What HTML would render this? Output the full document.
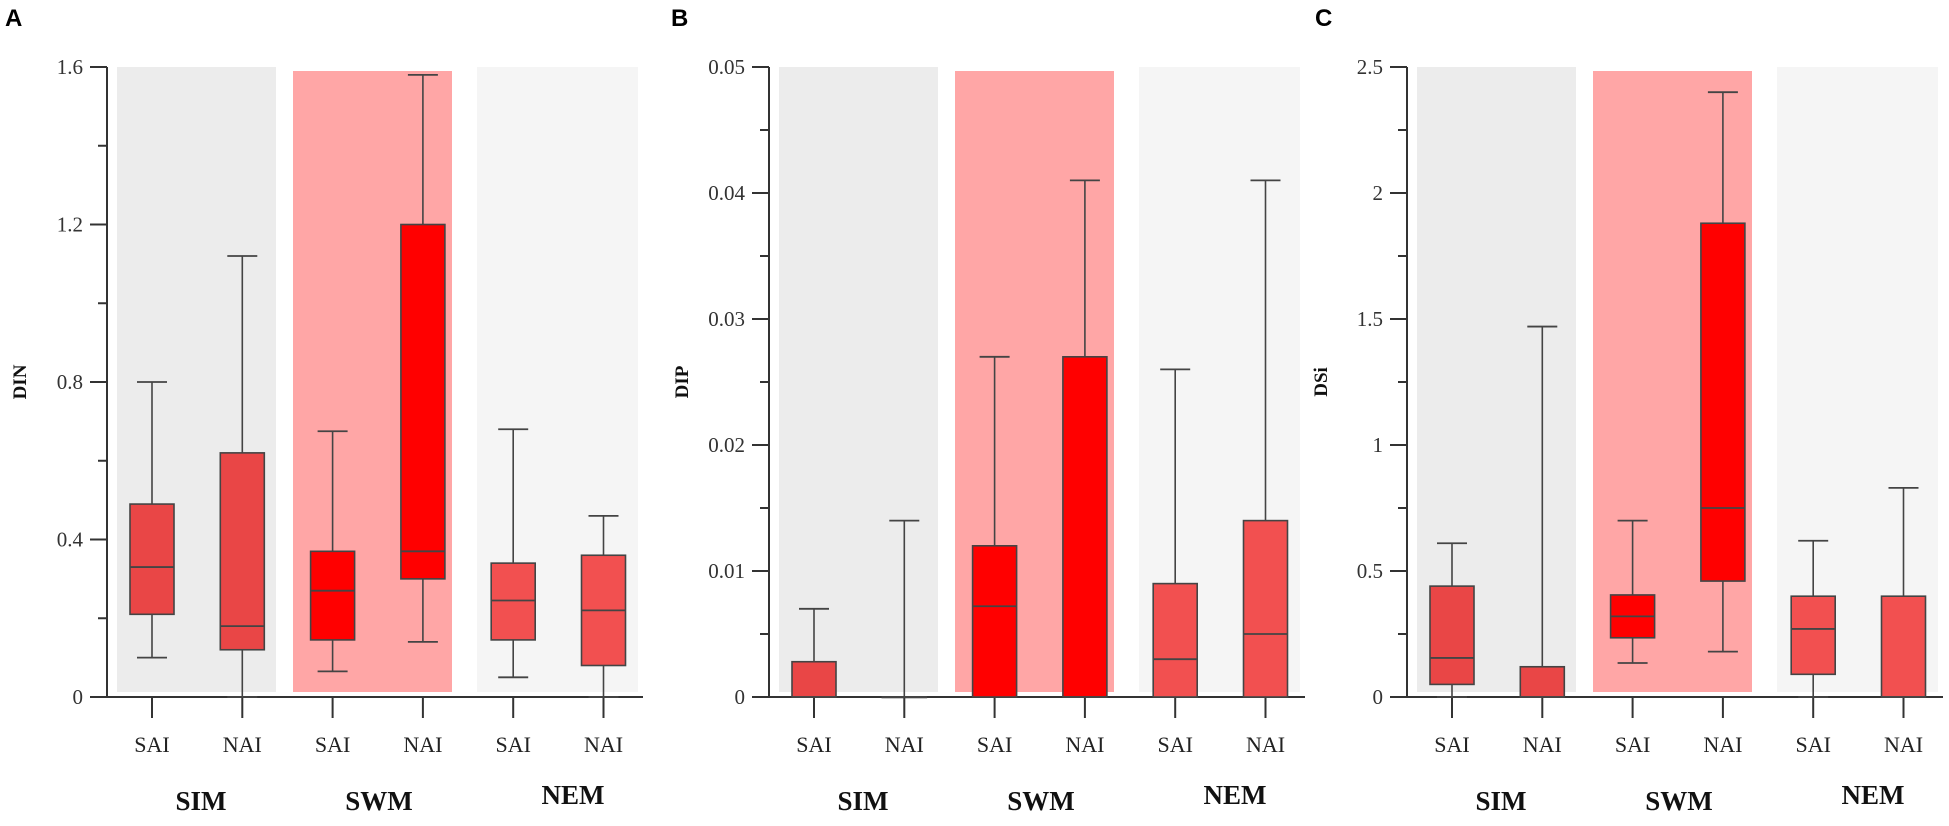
<!DOCTYPE html>
<html><head><meta charset="utf-8"><style>
html,body{margin:0;padding:0;background:#fff;}
svg{display:block;}
</style></head><body>
<svg id="fig" width="1949" height="826" xmlns="http://www.w3.org/2000/svg"></svg>
<script>
const categories = ["SAI","NAI","SAI","NAI","SAI","NAI"];
const groups = ["SIM","SWM","NEM"];
// panel A: DIN
const dinWhiskerLow = [0.1, 0, 0.065, 0.14, 0.05, 0];
const dinQ1 = [0.21, 0.12, 0.145, 0.30, 0.145, 0.08];
const dinMedian = [0.33, 0.18, 0.27, 0.37, 0.245, 0.22];
const dinQ3 = [0.49, 0.62, 0.37, 1.20, 0.34, 0.36];
const dinWhiskerHigh = [0.8, 1.12, 0.675, 1.58, 0.68, 0.46];
const dinTicks = ["0","0.4","0.8","1.2","1.6"];
// panel B: DIP
const dipWhiskerLow = [0, 0, 0, 0, 0, 0];
const dipQ1 = [0, 0, 0, 0, 0, 0];
const dipMedian = [0, 0, 0.0072, 0, 0.003, 0.005];
const dipQ3 = [0.0028, 0, 0.012, 0.027, 0.009, 0.014];
const dipWhiskerHigh = [0.007, 0.014, 0.027, 0.041, 0.026, 0.041];
const dipTicks = ["0","0.01","0.02","0.03","0.04","0.05"];
// panel C: DSi
const dsiWhiskerLow = [0, 0, 0.135, 0.18, 0, 0];
const dsiQ1 = [0.05, 0, 0.235, 0.46, 0.09, 0];
const dsiMedian = [0.155, 0, 0.32, 0.75, 0.27, 0];
const dsiQ3 = [0.44, 0.12, 0.405, 1.88, 0.40, 0.40];
const dsiWhiskerHigh = [0.61, 1.47, 0.70, 2.4, 0.62, 0.83];
const dsiTicks = ["0","0.5","1","1.5","2","2.5"];

const NS="http://www.w3.org/2000/svg";
const svg=document.getElementById('fig');
function mk(tag,attrs,parent,text){const e=document.createElementNS(NS,tag);for(const k in attrs)e.setAttribute(k,attrs[k]);if(text!==undefined)e.textContent=text;(parent||svg).appendChild(e);return e;}

const Y0=697, Y1=67;
const shadeFill=["#ececec","#ffa6a6","#f5f5f5"];
const boxFill=["#e94646","#e94646","#ff0000","#ff0000","#f25050","#f25050"];

function panel(letter, title, ax, lx, tx, ticks, lo, q1, med, q3, hi){
  const g=mk('g',{});
  
  
  const max=parseFloat(ticks[ticks.length-1]);
  const y=v=>Y0-(v/max)*(Y0-Y1);
  const xc=i=>ax+45+90.3*i;
  // shading
  const sh=[[10,169],[186,345],[370,531]];
  sh.forEach((s,k)=>{
    const r=mk('rect',{x:ax+s[0],y:k===1?71:67,width:s[1]-s[0],height:(k===1?692-71:692-67),fill:shadeFill[k]},g);
    
    
  });
  // axes
  const ya=mk('line',{x1:ax,y1:Y1,x2:ax,y2:Y0,stroke:'#333','stroke-width':2},g);
  
  
  const xa=mk('line',{x1:ax-1,y1:Y0,x2:ax+536,y2:Y0,stroke:'#333','stroke-width':2},g);
  
  
  // ticks
  for(let i=0;i<ticks.length;i++){
    const v=parseFloat(ticks[i]);
    mk('line',{x1:ax-17,y1:y(v),x2:ax,y2:y(v),stroke:'#333','stroke-width':2},g);
    const t=mk('text',{x:ax-24,y:y(v)+7,'text-anchor':'end','font-family':'Liberation Serif, serif','font-size':21,fill:'#333'},g,ticks[i]);
    
    
    if(i<ticks.length-1){
      const mv=v+(parseFloat(ticks[i+1])-v)/2;
      mk('line',{x1:ax-9,y1:y(mv),x2:ax,y2:y(mv),stroke:'#333','stroke-width':2},g);
    }
  }
  // boxes
  for(let i=0;i<categories.length;i++){
    const cx=xc(i);
    mk('line',{x1:cx,y1:Y0,x2:cx,y2:718,stroke:'#333','stroke-width':2},g);
    const cl=mk('text',{x:cx,y:752,'text-anchor':'middle','font-family':'Liberation Serif, serif','font-size':22,fill:'#222'},g,categories[i]);
    
    
    const bg=mk('g',{},g);
    
    
    mk('line',{x1:cx,y1:y(hi[i]),x2:cx,y2:y(lo[i]),stroke:'#444','stroke-width':1.6},bg);
    mk('line',{x1:cx-15,y1:y(hi[i]),x2:cx+15,y2:y(hi[i]),stroke:'#444','stroke-width':1.8},bg);
    mk('line',{x1:cx-15,y1:y(lo[i]),x2:cx+15,y2:y(lo[i]),stroke:'#444','stroke-width':1.8},bg);
    const h=Math.max(y(q1[i])-y(q3[i]),0.5);
    mk('rect',{x:cx-22,y:y(q3[i]),width:44,height:h,fill:boxFill[i],stroke:'#444','stroke-width':1.6},bg);
    mk('line',{x1:cx-22,y1:y(med[i]),x2:cx+22,y2:y(med[i]),stroke:'#444','stroke-width':1.8},bg);
  }
  // group labels
  const gx=[ax+94,ax+272,ax+466];
  const gy=[810,810,804];
  groups.forEach((n,k)=>{
    const t=mk('text',{x:gx[k],y:gy[k],'text-anchor':'middle','font-family':'Liberation Serif, serif','font-size':27,'font-weight':'bold',fill:'#111'},g,n);
    
    
  });
  // y title
  const yt=mk('text',{x:0,y:0,transform:`translate(${tx},382) rotate(-90)`,'text-anchor':'middle','font-family':'Liberation Serif, serif','font-size':19,'font-weight':'bold',fill:'#111'},g,title);
  
  
  const pl=mk('text',{x:lx,y:26,'font-family':'Liberation Sans, sans-serif','font-size':24,'font-weight':'bold',fill:'#000'},g,letter);
  
  
}
panel('A','DIN',107,5,26,dinTicks,dinWhiskerLow,dinQ1,dinMedian,dinQ3,dinWhiskerHigh);
panel('B','DIP',769,671,688,dipTicks,dipWhiskerLow,dipQ1,dipMedian,dipQ3,dipWhiskerHigh);
panel('C','DSi',1407,1315,1327,dsiTicks,dsiWhiskerLow,dsiQ1,dsiMedian,dsiQ3,dsiWhiskerHigh);
</script>
</body></html>
